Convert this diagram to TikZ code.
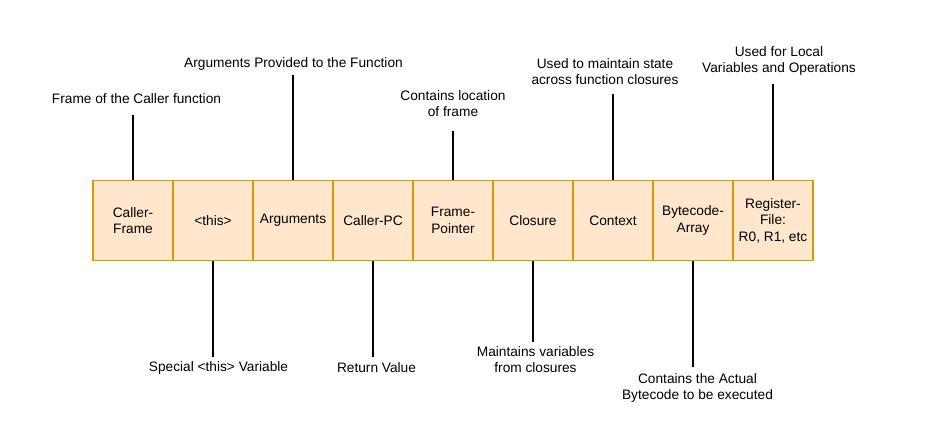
\documentclass[tikz,border=0pt]{standalone}
\usepackage{fontspec}
\setmainfont{Liberation Sans}
\usepackage{tikz}
\usetikzlibrary{positioning}
\definecolor{FrameOrange}{HTML}{D79B00}
\definecolor{FrameFill}{HTML}{FFE6CC}
\tikzset{
  slotnode/.style={draw=FrameOrange,fill=FrameFill,line width=1.5pt,
    minimum width=80pt,minimum height=80pt,inner sep=1pt,outer sep=0pt,
    font=\fontsize{13.7}{16.5}\selectfont,align=center},
  notenode/.style={font=\fontsize{13.7}{16}\selectfont,align=center,inner sep=0pt},
  lead/.style={line width=1.3pt,draw=black,shorten <=0.75pt},
}

\begin{document}
\begin{tikzpicture}[x=1pt,y=-1pt,node distance=0pt]
  \useasboundingbox (0,0) rectangle (952,444);
  \node[slotnode] (callerframe) at (133,220.5) {Caller-\\Frame};
  \node[slotnode] (this) at (213,220.5) {<this>};
  \node[slotnode] (arguments) at (293,220.5) {Arguments};
  \node[slotnode] (callerpc) at (373,220.5) {Caller-PC};
  \node[slotnode] (framepointer) at (453,220.5) {Frame-\\Pointer};
  \node[slotnode] (closure) at (533,220.5) {Closure};
  \node[slotnode] (context) at (613,220.5) {Context};
  \node[slotnode] (bytecode) at (693,220.5) {Bytecode-\\Array};
  \node[slotnode] (registerfile) at (773,220.5) {Register-\\File:\\R0, R1, etc};
  \node[notenode] (lblcallerframe) at (136.5,99) {Frame of the Caller function};
  \node[notenode] (lblarguments) at (293.5,64) {Arguments Provided to the Function};
  \node[notenode] (lblframepointer) at (453,104) {Contains location\\of frame};
  \node[notenode] (lblcontext) at (605,72) {Used to maintain state\\across function closures};
  \node[notenode] (lblregisterfile) at (779,61) {Used for Local\\Variables and Operations};
  \node[notenode] (lblthis) at (218.5,368) {Special <this> Variable};
  \node[notenode] (lblcallerpc) at (376.5,368) {Return Value};
  \node[notenode] (lblclosure) at (535.5,360) {Maintains variables\\from closures};
  \node[notenode] (lblbytecode) at (697.5,388) {Contains the Actual\\Bytecode to be executed};
  \coordinate (cfend) at (133,115);
  \coordinate (argend) at (293,75);
  \coordinate (fpend) at (453,131);
  \coordinate (ctxend) at (613,94);
  \coordinate (rfend) at (773,84);
  \coordinate (thisend) at (213,357);
  \coordinate (pcend) at (373,357);
  \coordinate (clend) at (533,342);
  \coordinate (bcend) at (693,367);
  \draw[lead] (callerframe.north) -- (cfend);
  \draw[lead] (arguments.north) -- (argend);
  \draw[lead] (framepointer.north) -- (fpend);
  \draw[lead] (context.north) -- (ctxend);
  \draw[lead] (registerfile.north) -- (rfend);
  \draw[lead] (this.south) -- (thisend);
  \draw[lead] (callerpc.south) -- (pcend);
  \draw[lead] (closure.south) -- (clend);
  \draw[lead] (bytecode.south) -- (bcend);
\end{tikzpicture}
\end{document}
